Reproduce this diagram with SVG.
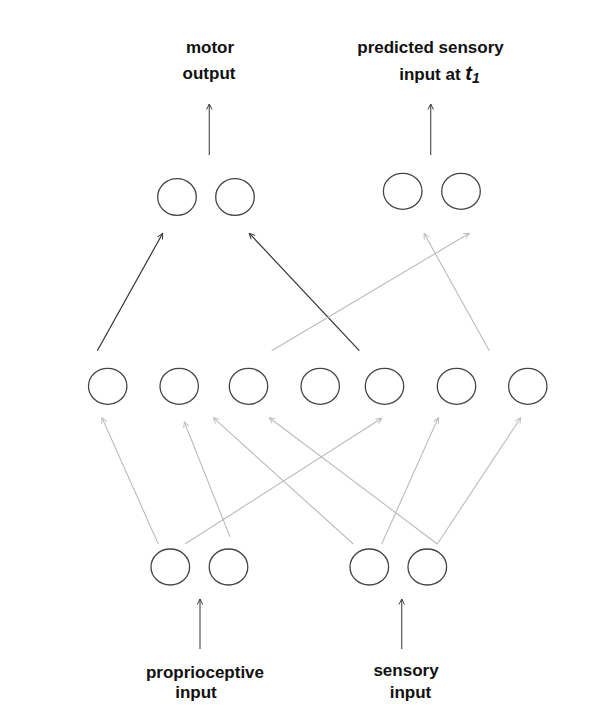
<svg xmlns="http://www.w3.org/2000/svg" width="600" height="724" viewBox="0 0 600 724">
<style>
.n{fill:none;stroke:#444;stroke-width:1.3}
.d{stroke:#333;stroke-width:1.2;fill:none;marker-end:url(#ad)}
.l{stroke:#bbb;stroke-width:1.1;fill:none;marker-end:url(#al)}
.o{stroke:#555;stroke-width:1.2;fill:none;marker-end:url(#ad)}
text{font-family:"Liberation Sans",Arial,sans-serif;font-weight:bold;font-size:17px;fill:#111;text-anchor:middle}
</style>
<defs>
<marker id="ad" viewBox="0 0 10 10" refX="9" refY="5" markerWidth="7" markerHeight="7" orient="auto" markerUnits="userSpaceOnUse"><path d="M1,1 L9,5 L1,9" fill="none" stroke="#333" stroke-width="1.3"/></marker>
<marker id="al" viewBox="0 0 10 10" refX="9" refY="5" markerWidth="7" markerHeight="7" orient="auto" markerUnits="userSpaceOnUse"><path d="M1,1 L9,5 L1,9" fill="none" stroke="#bbb" stroke-width="1.3"/></marker>
</defs>
<rect width="600" height="724" fill="#fff"/>
<g id="labels">
<text x="210" y="53">motor</text>
<text x="209" y="79">output</text>
<text x="430.5" y="53">predicted sensory</text>
<text x="439.5" y="80">input at <tspan font-style="italic" font-size="20">t</tspan><tspan font-style="italic" font-size="14" dy="3">1</tspan></text>
<text x="205" y="678">proprioceptive</text>
<text x="196" y="698">input</text>
<text x="406" y="676">sensory</text>
<text x="410.5" y="698">input</text>
</g>
<g id="connectors">
<line class="o" x1="209.3" y1="155" x2="209.3" y2="104"/>
<line class="o" x1="430.7" y1="155" x2="430.7" y2="104"/>
<line class="o" x1="200" y1="649" x2="200" y2="599"/>
<line class="o" x1="401.7" y1="649" x2="401.7" y2="599"/>
<line class="d" x1="97.3" y1="350.7" x2="162.7" y2="233.3"/>
<line class="d" x1="359.3" y1="350.7" x2="249.3" y2="233.3"/>
<line class="l" x1="271.7" y1="350.7" x2="469.3" y2="233.3"/>
<line class="l" x1="489.3" y1="350.7" x2="424" y2="233.3"/>
<line class="l" x1="158.3" y1="544" x2="102" y2="417.7"/>
<line class="l" x1="230" y1="536.7" x2="184.3" y2="422"/>
<line class="l" x1="185" y1="544" x2="381.7" y2="418.3"/>
<line class="l" x1="353.3" y1="544" x2="213.3" y2="417.7"/>
<line class="l" x1="381.7" y1="544" x2="438.3" y2="417.7"/>
<line class="l" x1="437.3" y1="544" x2="269.3" y2="417.7"/>
<line class="l" x1="437.3" y1="544" x2="520.7" y2="417.7"/>
</g>
<g id="out1"><ellipse class="n" cx="177" cy="197" rx="19.3" ry="18.3"/></g>
<g id="out2"><ellipse class="n" cx="235" cy="197" rx="19.3" ry="18.3"/></g>
<g id="pred1"><ellipse class="n" cx="402.7" cy="191.3" rx="19.3" ry="18"/></g>
<g id="pred2"><ellipse class="n" cx="461" cy="191.3" rx="19.3" ry="18"/></g>
<g id="h1"><ellipse class="n" cx="107.7" cy="386.3" rx="19.2" ry="18"/></g>
<g id="h2"><ellipse class="n" cx="179.2" cy="386.3" rx="19.2" ry="18"/></g>
<g id="h3"><ellipse class="n" cx="248.5" cy="386.3" rx="19.2" ry="18"/></g>
<g id="h4"><ellipse class="n" cx="320.2" cy="386.3" rx="19.2" ry="18"/></g>
<g id="h5"><ellipse class="n" cx="384.5" cy="386.3" rx="19.2" ry="18"/></g>
<g id="h6"><ellipse class="n" cx="456.5" cy="386.3" rx="19.2" ry="18"/></g>
<g id="h7"><ellipse class="n" cx="527.8" cy="386.3" rx="19.2" ry="18"/></g>
<g id="p1"><ellipse class="n" cx="170.3" cy="567" rx="19.3" ry="18"/></g>
<g id="p2"><ellipse class="n" cx="228.5" cy="567" rx="19.3" ry="18"/></g>
<g id="s1"><ellipse class="n" cx="369.3" cy="567" rx="19.3" ry="18"/></g>
<g id="s2"><ellipse class="n" cx="427.3" cy="567" rx="19.3" ry="18"/></g>
</svg>
